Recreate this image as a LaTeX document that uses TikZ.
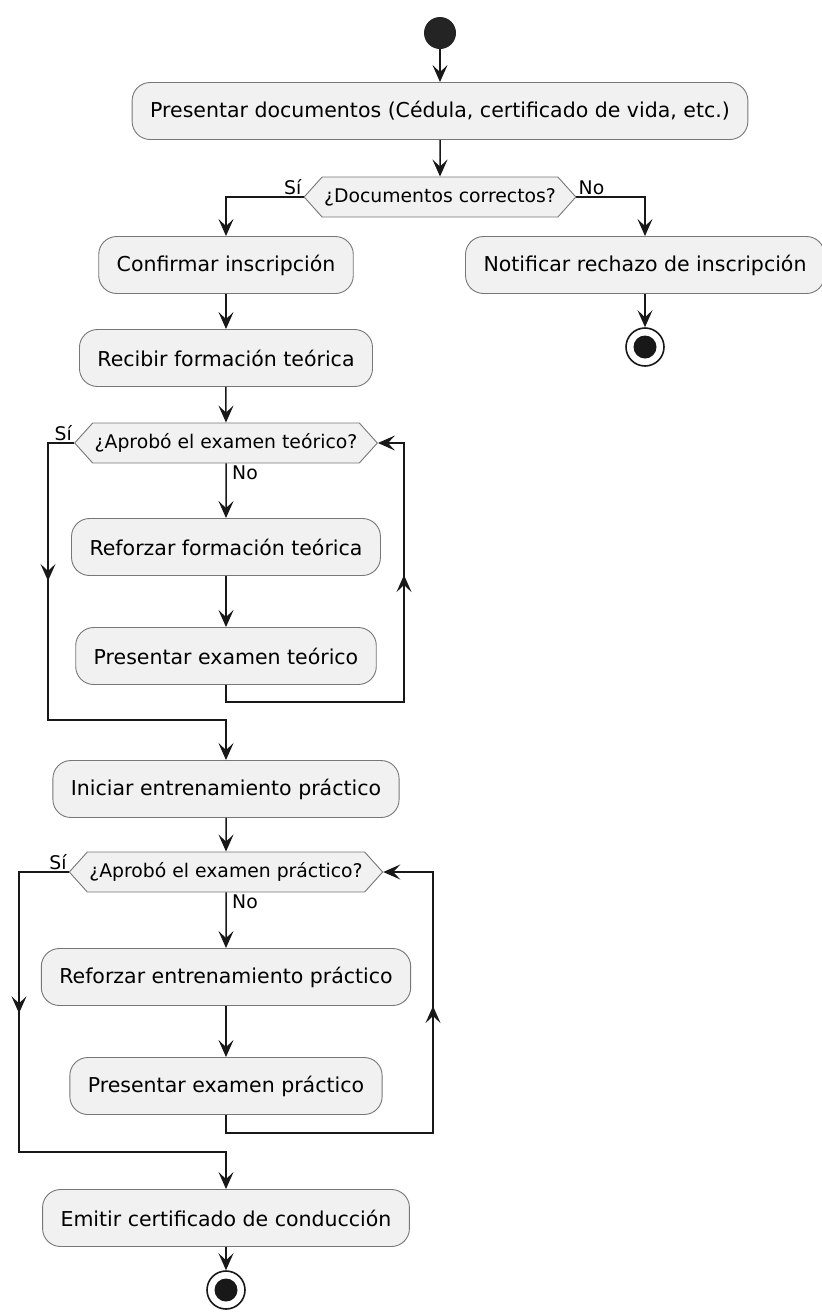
\documentclass[tikz,border=0pt]{standalone}
\usepackage{fontspec}
\setmainfont{DejaVu Sans}
\usetikzlibrary{arrows.meta,shapes.symbols,decorations.markings}
\definecolor{umlline}{HTML}{181818}
\definecolor{umlborder}{HTML}{777777}
\definecolor{umlfill}{HTML}{F1F1F1}

\begin{document}
\begin{tikzpicture}[x=1pt, y=-1pt,
    act/.style={draw=umlborder, line width=0.9pt, fill=umlfill, rounded corners=18pt,
        minimum height=57pt, inner xsep=18pt, font=\fontsize{20.5}{24}\selectfont},
    dec/.style={draw=umlborder, line width=0.9pt, fill=umlfill, signal, signal to=west and east,
        signal pointer angle=96, minimum height=40pt, inner xsep=2pt, font=\fontsize{18.8}{22}\selectfont},
    lbl/.style={inner sep=2pt, font=\fontsize{18.8}{22}\selectfont},
    startdot/.style={circle, fill=umlline!95!white, minimum size=32pt, inner sep=0pt},
    enddot/.style={circle, draw=umlline, line width=1.6pt, fill=white, minimum size=38pt, inner sep=0pt,
        path picture={\fill[umlline] (path picture bounding box.center) circle (11.5pt);}},
    flow/.style={draw=umlline, line width=1.5pt, -{Stealth[length=17pt, width=15pt, inset=7pt]}},
    midarrow/.style={postaction={decorate}, decoration={markings,
        mark=at position #1 with {\arrow{Stealth[length=17pt, width=15pt, inset=7pt]}}}}]
        \useasboundingbox (0,0) rectangle (822,1315);

        \node[startdot] (start) at (440, 33) {};
        \node[act] (pres) at (440, 111) {Presentar documentos (Cédula, certificado de vida, etc.)};
        \node[dec] (dec1) at (440, 197) {¿Documentos correctos?};
        \node[act] (conf) at (226, 265) {Confirmar inscripción};
        \node[act] (notif) at (645, 265) {Notificar rechazo de inscripción};
        \node[enddot] (end1) at (645, 347) {};
        \node[act] (recib) at (226, 358) {Recibir formación teórica};
        \node[dec] (dec2) at (226, 443) {¿Aprobó el examen teórico?};
        \node[act] (refT) at (226, 547) {Reforzar formación teórica};
        \node[act] (presT) at (226, 656) {Presentar examen teórico};
        \node[act] (inic) at (226, 789) {Iniciar entrenamiento práctico};
        \node[dec] (dec3) at (226, 872) {¿Aprobó el examen práctico?};
        \node[act] (refP) at (226, 977) {Reforzar entrenamiento práctico};
        \node[act] (presP) at (226, 1086) {Presentar examen práctico};
        \node[act] (emit) at (226, 1218) {Emitir certificado de conducción};
        \node[enddot] (end2) at (226, 1290) {};

        \coordinate (backT) at (404, 702);
        \coordinate (joinT) at (48, 720);
        \coordinate (backP) at (433, 1133);
        \coordinate (joinP) at (19, 1152);

        \node[lbl, anchor=south east] (si1) at (dec1.west) {Sí};
        \node[lbl, anchor=south west] (no1) at (dec1.east) {No};
        \node[lbl, anchor=south east] (si2) at (dec2.west) {Sí};
        \node[lbl, anchor=north west] (no2) at ([xshift=4pt]dec2.south) {No};
        \node[lbl, anchor=south east] (si3) at (dec3.west) {Sí};
        \node[lbl, anchor=north west] (no3) at ([xshift=4pt]dec3.south) {No};

        \draw[flow] (start) -- (pres);
        \draw[flow] (pres) -- (dec1);
        \draw[flow] (dec1.west) -| (conf.north);
        \draw[flow] (dec1.east) -| (notif.north);
        \draw[flow] (notif) -- (end1);
        \draw[flow] (conf) -- (recib);
        \draw[flow] (recib) -- (dec2);
        \draw[flow] (dec2) -- (refT);
        \draw[flow] (refT) -- (presT);
        \draw[flow, midarrow=322pt] (presT.south) |- (backT) |- (dec2.east);
        \draw[flow, midarrow=164pt] (dec2.west) -| (joinT) -| (inic.north);
        \draw[flow] (inic) -- (dec3);
        \draw[flow] (dec3) -- (refP);
        \draw[flow] (refP) -- (presP);
        \draw[flow, midarrow=352pt] (presP.south) |- (backP) |- (dec3.east);
        \draw[flow, midarrow=191pt] (dec3.west) -| (joinP) -| (emit.north);
        \draw[flow] (emit) -- (end2);

    \end{tikzpicture}
\end{document}
